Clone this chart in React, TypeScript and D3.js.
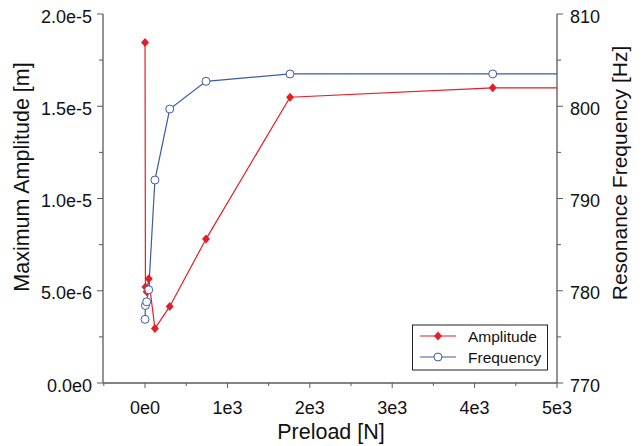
import React from "react";
import * as d3 from "d3";

const preload = [0, 5, 20, 45, 120, 300, 740, 1760, 4220, 9000];
const amplitude = [1.845e-5, 5.2e-6, 4.95e-6, 5.65e-6, 2.95e-6, 4.15e-6, 7.8e-6, 1.549e-5, 1.6e-5, 1.6e-5];
const frequency = [776.9, 778.4, 778.8, 780.1, 792.0, 799.7, 802.7, 803.5, 803.5, 803.5];
const xTicks = [0, 1000, 2000, 3000, 4000, 5000];
const xTickLabels = ["0e0", "1e3", "2e3", "3e3", "4e3", "5e3"];
const yLeftTicks = [0, 5e-6, 1e-5, 1.5e-5, 2e-5];
const yLeftLabels = ["0.0e0", "5.0e-6", "1.0e-5", "1.5e-5", "2.0e-5"];
const yRightTicks = [770, 780, 790, 800, 810];

const W = 644, H = 446;
const L = 103, R = 557, T = 14, B = 383;
const RED = "#e41e26";
const BLUE = "#3d5aa6";
const AX = "#5a5a5a";
const FONT = "Liberation Sans, Arial, sans-serif";
const DIAMOND = "M0,-4.5L4,0L0,4.5L-4,0Z";

export default function App() {
  const x = d3.scaleLinear().domain([-510, 5000]).range([L, R]);
  const yl = d3.scaleLinear().domain([0, 2e-5]).range([B, T]);
  const yr = d3.scaleLinear().domain([770, 810]).range([B, T]);
  const idx = preload.map((_, i) => i);
  const lineA = d3.line<number>().x(i => x(preload[i])).y(i => yl(amplitude[i]));
  const lineF = d3.line<number>().x(i => x(preload[i])).y(i => yr(frequency[i]));
  const xMinor = d3.range(-500, 5001, 500);
  const ylMinor = d3.range(0, 2.0001e-5, 2.5e-6);
  const yrMinor = d3.range(770, 811, 5);
  return (
    <svg width={W} height={H} style={{ position: "absolute", left: 0, top: 0, background: "#fff" }} fontFamily={FONT}>
      <defs>
        <clipPath id="clip"><rect x={L} y={T - 10} width={R - L} height={B - T + 20} /></clipPath>
      </defs>
      <rect width={W} height={H} fill="#fff" />
      {/* axes */}
      <line x1={L} y1={T} x2={L} y2={B} stroke={AX} strokeWidth={1.3} />
      <line x1={R} y1={T} x2={R} y2={B} stroke={AX} strokeWidth={1.3} />
      <line x1={L} y1={B} x2={R} y2={B} stroke={AX} strokeWidth={1.3} />
      {xMinor.map(v => (
        <line key={"xm" + v} x1={x(v)} x2={x(v)} y1={B} y2={B + (v % 1000 === 0 ? 5 : 3)} stroke={AX} strokeWidth={1} />
      ))}
      {ylMinor.map((v, i) => (
        <line key={"ylm" + i} x1={L} x2={L - (i % 2 === 0 ? 6 : 4)} y1={yl(v)} y2={yl(v)} stroke={AX} strokeWidth={1} />
      ))}
      {yrMinor.map((v, i) => (
        <line key={"yrm" + i} x1={R} x2={R + (i % 2 === 0 ? 6 : 4)} y1={yr(v)} y2={yr(v)} stroke={AX} strokeWidth={1} />
      ))}
      {xTicks.map((v, i) => (
        <text key={"xt" + v} x={x(v)} y={413.5} textAnchor="middle" fontSize={18} fill="#111">{xTickLabels[i]}</text>
      ))}
      {yLeftTicks.map((v, i) => (
        <text key={"yl" + i} x={L - 11} y={yl(v) + 8.5} textAnchor="end" fontSize={18} fill="#111">{yLeftLabels[i]}</text>
      ))}
      {yRightTicks.map(v => (
        <text key={"yr" + v} x={R + 13} y={yr(v) + 8.5} textAnchor="start" fontSize={18} fill="#111">{v}</text>
      ))}
      <text x={331} y={439} textAnchor="middle" fontSize={21.5} fill="#111">Preload [N]</text>
      <text transform={`translate(29,177) rotate(-90)`} textAnchor="middle" fontSize={21.5} fill="#111">Maximum Amplitude [m]</text>
      <text transform={`translate(627,173) rotate(-90)`} textAnchor="middle" fontSize={21} fill="#111">Resonance Frequency [Hz]</text>
      {/* data */}
      <g clipPath="url(#clip)">
        <path d={lineA(idx) || ""} fill="none" stroke={RED} strokeWidth={1.2} />
        <path d={lineF(idx) || ""} fill="none" stroke={BLUE} strokeWidth={1.2} />
        {idx.map(i => (
          <path key={"a" + i} d={DIAMOND} transform={`translate(${x(preload[i])},${yl(amplitude[i])})`} fill={RED} />
        ))}
        {idx.map(i => (
          <circle key={"f" + i} cx={x(preload[i])} cy={yr(frequency[i])} r={4} fill="#fff" stroke={BLUE} strokeWidth={1} />
        ))}
      </g>
      {/* legend */}
      <rect x={412.5} y={325} width={135} height={45} fill="#fff" stroke="#222" strokeWidth={1} />
      <line x1={420} x2={456} y1={336} y2={336} stroke={RED} strokeWidth={1.2} />
      <path d={DIAMOND} transform="translate(438,336)" fill={RED} />
      <text x={468} y={341.5} fontSize={15.5} fill="#111">Amplitude</text>
      <line x1={420} x2={456} y1={357} y2={357} stroke={BLUE} strokeWidth={1.2} />
      <circle cx={438} cy={357} r={4} fill="#fff" stroke={BLUE} strokeWidth={1} />
      <text x={468} y={362.5} fontSize={15.5} fill="#111">Frequency</text>
    </svg>
  );
}
